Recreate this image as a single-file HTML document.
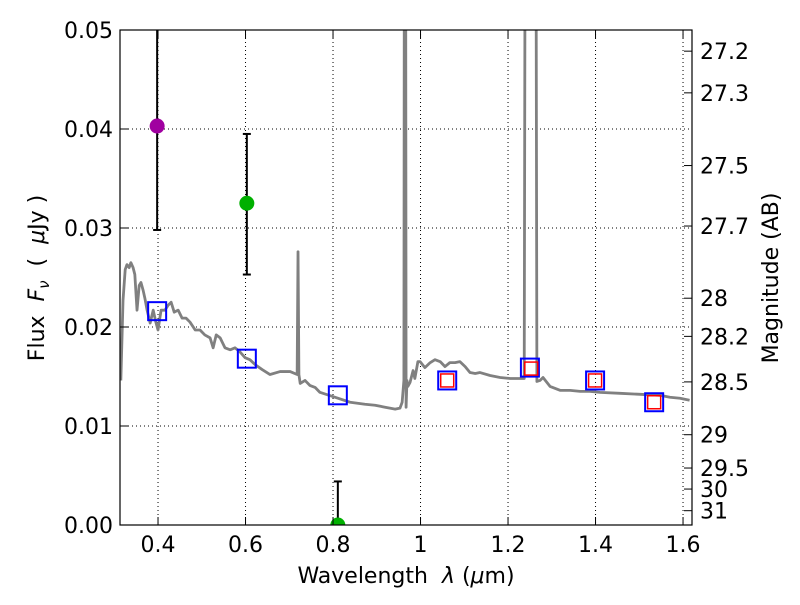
<!DOCTYPE html>
<html><head><meta charset="utf-8"><style>
body{margin:0;background:#fff;font-family:"Liberation Sans","DejaVu Sans",sans-serif}
svg text{font-family:"DejaVu Sans","Liberation Sans",sans-serif}
</style></head><body>
<svg id="chart" width="800" height="600" viewBox="0 0 800 600" xmlns="http://www.w3.org/2000/svg"></svg>
<script>
const specWave=[0.315,0.320,0.325,0.329,0.334,0.338,0.343,0.347,0.352,0.357,0.361,0.366,0.370,0.375,0.382,0.389,0.395,0.400,0.407,0.416,0.423,0.430,0.437,0.446,0.455,0.464,0.473,0.485,0.496,0.507,0.519,0.526,0.533,0.542,0.553,0.565,0.576,0.587,0.599,0.610,0.622,0.638,0.656,0.679,0.702,0.718,0.720,0.722,0.725,0.736,0.747,0.759,0.770,0.805,0.839,0.873,0.896,0.919,0.942,0.953,0.958,0.962,0.963,0.966,0.967,0.969,0.971,0.976,0.983,0.987,0.994,0.999,1.010,1.022,1.033,1.045,1.056,1.067,1.079,1.090,1.102,1.113,1.125,1.136,1.159,1.182,1.205,1.227,1.237,1.239,1.243,1.262,1.264,1.266,1.273,1.280,1.296,1.319,1.342,1.365,1.387,1.410,1.456,1.502,1.547,1.570,1.593,1.615];
const specFlux=[0.0146,0.0227,0.0258,0.0263,0.0260,0.0265,0.0260,0.0253,0.0217,0.0242,0.0245,0.0237,0.0229,0.0217,0.0204,0.0217,0.0205,0.0197,0.0217,0.0217,0.0222,0.0225,0.0215,0.0217,0.0209,0.0209,0.0205,0.0197,0.0197,0.0192,0.0189,0.0179,0.0192,0.0189,0.0179,0.0177,0.0179,0.0175,0.0169,0.0167,0.0162,0.0157,0.0152,0.0155,0.0155,0.0152,0.0276,0.0152,0.0143,0.0146,0.0141,0.0139,0.0134,0.0129,0.0124,0.0122,0.0121,0.0119,0.0117,0.0118,0.0124,0.0146,0.06,0.06,0.0119,0.0146,0.0140,0.0144,0.0156,0.0148,0.0165,0.0165,0.0159,0.0164,0.0167,0.0165,0.0160,0.0164,0.0164,0.0165,0.0160,0.0154,0.0153,0.0154,0.0151,0.0149,0.0148,0.0148,0.0148,0.06,0.06,0.06,0.06,0.0145,0.0146,0.0149,0.0140,0.0136,0.0136,0.0135,0.0135,0.0134,0.0133,0.0132,0.0131,0.0129,0.0128,0.0126];
const bandWave=[0.398,0.603,0.811,1.061,1.250,1.399,1.534];
const bandFlux=[0.0216,0.0168,0.0131,0.0146,0.0159,0.0146,0.0124];
const redWave=[1.061,1.253,1.399,1.534];
const redFlux=[0.0146,0.0158,0.0146,0.0124];
const obsWave=[0.398,0.603,0.811];
const obsFlux=[0.0403,0.0325,0.0];
const obsLo=[0.0298,0.0253,0.0];
const obsHi=[0.060,0.0395,0.0044];
const obsColor=['#a000a0','#00b000','#00b000'];
const xTicks=[0.4,0.6,0.8,1.0,1.2,1.4,1.6];
const xTickLabels=['0.4','0.6','0.8','1','1.2','1.4','1.6'];
const yTicks=[0,0.01,0.02,0.03,0.04,0.05];
const yTickLabels=['0.00','0.01','0.02','0.03','0.04','0.05'];
const magTicks=[27.2,27.3,27.5,27.7,28,28.2,28.5,29,29.5,30,31];
const magTickLabels=['27.2','27.3','27.5','27.7','28','28.2','28.5','29','29.5','30','31'];

const L=120,R=692,T=30,B=525,X0=0.3131,X1=1.6205,Y0=0,Y1=0.05;
const sx=v=>L+(v-X0)/(X1-X0)*(R-L);
const sy=v=>B-(v-Y0)/(Y1-Y0)*(B-T);
const NS='http://www.w3.org/2000/svg';
const svg=document.getElementById('chart');
function mk(tag,attrs,parent){const e=document.createElementNS(NS,tag);for(const k in attrs)e.setAttribute(k,attrs[k]);(parent||svg).appendChild(e);return e;}
const defs=mk('defs',{});const cp=mk('clipPath',{id:'clip'},defs);mk('rect',{x:L,y:T,width:R-L,height:B-T},cp);
const plot=mk('g',{'clip-path':'url(#clip)'});

xTicks.forEach((t,i)=>{const g=mk('line',{x1:sx(t),x2:sx(t),y1:T,y2:B,stroke:'#000','stroke-width':1,'stroke-dasharray':'1,3'},plot);
});
yTicks.forEach(t=>{const g=mk('line',{x1:L,x2:R,y1:sy(t),y2:sy(t),stroke:'#000','stroke-width':1,'stroke-dasharray':'1,3'},plot);
});
const sp=mk('polyline',{points:specWave.map((w,i)=>sx(w)+','+sy(specFlux[i])).join(' '),fill:'none',stroke:'#808080','stroke-width':2.8,'stroke-linejoin':'round'},plot);

bandWave.forEach((w,i)=>{const r=mk('rect',{x:sx(w)-9,y:sy(bandFlux[i])-9,width:18,height:18,fill:'none',stroke:'#0000ff','stroke-width':2},plot);
});
redWave.forEach((w,i)=>{const r=mk('rect',{x:sx(w)-6.5,y:sy(redFlux[i])-6.5,width:13,height:13,fill:'none',stroke:'#ff0000','stroke-width':1.5},plot);
});
obsWave.forEach((w,i)=>{const x=sx(w);
const e=mk('line',{x1:x,x2:x,y1:sy(obsLo[i]),y2:sy(obsHi[i]),stroke:'#000','stroke-width':2},plot);

[obsLo[i],obsHi[i]].forEach(v=>{const c=mk('line',{x1:x-4,x2:x+4,y1:sy(v),y2:sy(v),stroke:'#000','stroke-width':2},plot);
});
const p=mk('circle',{cx:x,cy:sy(obsFlux[i]),r:7.5,fill:obsColor[i]},plot);
});
const fr=mk('rect',{x:L,y:T,width:R-L,height:B-T,fill:'none',stroke:'#000','stroke-width':1.2});

const fs=22;
xTicks.forEach((t,i)=>{const x=sx(t);
mk('line',{x1:x,x2:x,y1:B,y2:B-8,stroke:'#000'});mk('line',{x1:x,x2:x,y1:T,y2:T+8,stroke:'#000'});
const tx=mk('text',{x:x,y:B+27,'font-size':fs,'text-anchor':'middle'});tx.textContent=xTickLabels[i];
});
yTicks.forEach((t,i)=>{const y=sy(t);
mk('line',{x1:L,x2:L+8,y1:y,y2:y,stroke:'#000'});
const tx=mk('text',{x:L-7,y:y+8,'font-size':fs,'text-anchor':'end'});tx.textContent=yTickLabels[i];
});
magTicks.forEach((m,i)=>{const y=sy(Math.pow(10,(23.9-m)/2.5));
mk('line',{x1:R,x2:R-8,y1:y,y2:y,stroke:'#000'});
const tx=mk('text',{x:R+8,y:y+8,'font-size':fs});tx.textContent=magTickLabels[i];
});
</script>
<svg width="800" height="600" style="position:absolute;left:0;top:0;pointer-events:none" xmlns="http://www.w3.org/2000/svg">
<text x="406" y="583" font-size="22" text-anchor="middle" font-family="DejaVu Sans, sans-serif" xml:space="preserve">Wavelength  <tspan font-style="italic">λ</tspan> (<tspan font-style="italic">μ</tspan>m)</text>
<text transform="translate(44,278) rotate(-90)" font-size="22" text-anchor="middle" font-family="DejaVu Sans, sans-serif" xml:space="preserve">Flux  <tspan font-style="italic">F</tspan><tspan font-style="italic" font-size="15" dy="5">ν</tspan><tspan dy="-5">  (  </tspan><tspan font-style="italic">μ</tspan>Jy )</text>
<text transform="translate(778,278) rotate(-90)" font-size="22" text-anchor="middle" font-family="DejaVu Sans, sans-serif">Magnitude (AB)</text>
</svg>
</body></html>
